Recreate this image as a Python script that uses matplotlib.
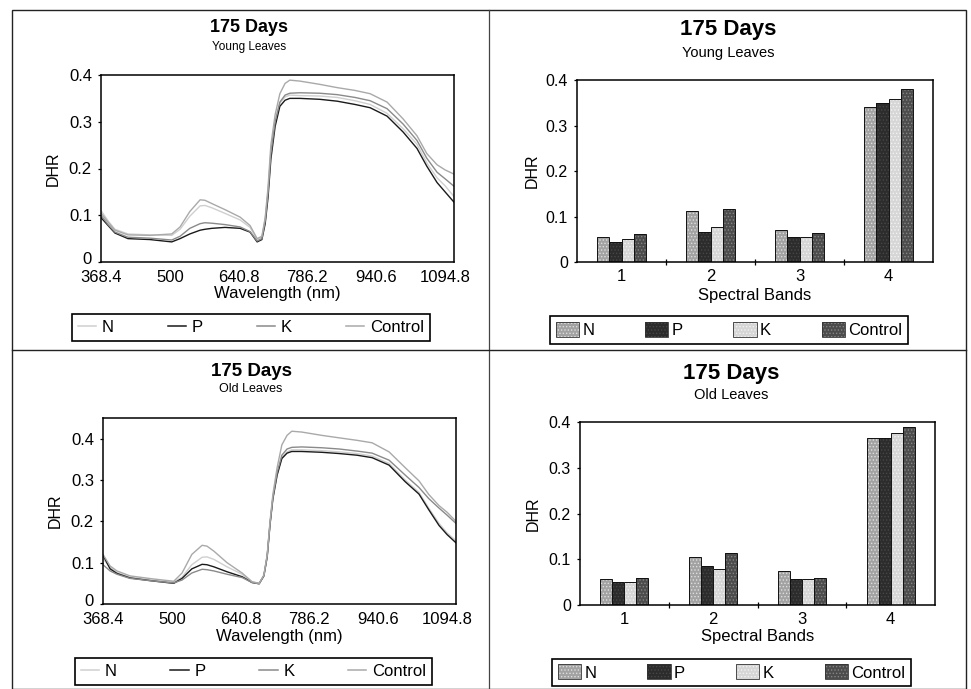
import numpy as np
import matplotlib
matplotlib.use("Agg")
import matplotlib.pyplot as plt
import matplotlib.transforms as mtransforms
from matplotlib.patches import Patch, Rectangle
from matplotlib.lines import Line2D

plt.rcParams['font.family'] = ['Liberation Sans', 'DejaVu Sans']
plt.rcParams['hatch.linewidth'] = 0.6

W, H = 971, 689

treatments = ['N', 'P', 'K', 'Control']
wl_ticks = [368.4, 500, 640.8, 786.2, 940.6, 1094.8]
wl_labels = ['368.4', '500', '640.8', '786.2', '940.6', '1094.8']
dhr_ticks = [0, 0.1, 0.2, 0.3, 0.4]
dhr_labels = ['0', '0.1', '0.2', '0.3', '0.4']
bands = [1, 2, 3, 4]

# wavelengths (nm) at which the curves were read
wavelength = [368.4, 382, 395, 420, 462, 504, 521, 541, 562, 572, 586, 613, 644, 665,
              680, 690, 697, 703, 709, 718, 728, 739, 749, 770, 814, 853, 893, 927,
              965, 1001, 1032, 1054, 1077, 1095, 1115]

young_N = [0.110, 0.088, 0.070, 0.060, 0.058, 0.057, 0.070, 0.098, 0.120, 0.121, 0.116, 0.104,
           0.090, 0.074, 0.048, 0.053, 0.090, 0.150, 0.235, 0.300, 0.340, 0.353, 0.357, 0.356,
           0.355, 0.352, 0.345, 0.337, 0.318, 0.285, 0.252, 0.212, 0.180, 0.163, 0.140]
young_P = [0.095, 0.078, 0.062, 0.050, 0.048, 0.043, 0.050, 0.060, 0.068, 0.070, 0.072, 0.074,
           0.072, 0.064, 0.043, 0.048, 0.082, 0.138, 0.220, 0.290, 0.333, 0.346, 0.350, 0.350,
           0.348, 0.344, 0.337, 0.330, 0.312, 0.278, 0.243, 0.205, 0.170, 0.150, 0.128]
young_K = [0.100, 0.080, 0.064, 0.053, 0.051, 0.047, 0.055, 0.072, 0.082, 0.084, 0.083, 0.080,
           0.075, 0.065, 0.045, 0.050, 0.088, 0.148, 0.232, 0.300, 0.342, 0.357, 0.361, 0.362,
           0.361, 0.358, 0.352, 0.345, 0.328, 0.295, 0.260, 0.222, 0.192, 0.178, 0.162]
young_C = [0.105, 0.085, 0.068, 0.058, 0.057, 0.060, 0.075, 0.108, 0.133, 0.132, 0.125, 0.112,
           0.096, 0.078, 0.050, 0.055, 0.095, 0.160, 0.250, 0.315, 0.360, 0.382, 0.389, 0.387,
           0.380, 0.373, 0.367, 0.360, 0.342, 0.306, 0.270, 0.232, 0.208, 0.197, 0.188]

old_N = [0.110, 0.088, 0.076, 0.065, 0.058, 0.053, 0.065, 0.095, 0.113, 0.114, 0.108, 0.090,
         0.072, 0.053, 0.050, 0.068, 0.113, 0.190, 0.252, 0.312, 0.354, 0.368, 0.373, 0.373,
         0.371, 0.368, 0.364, 0.358, 0.340, 0.300, 0.270, 0.232, 0.195, 0.172, 0.153]
old_P = [0.118, 0.085, 0.074, 0.063, 0.056, 0.050, 0.062, 0.085, 0.096, 0.095, 0.090, 0.078,
         0.066, 0.052, 0.049, 0.068, 0.115, 0.193, 0.255, 0.312, 0.352, 0.365, 0.369, 0.369,
         0.367, 0.364, 0.360, 0.354, 0.336, 0.296, 0.266, 0.228, 0.190, 0.168, 0.148]
old_K = [0.095, 0.080, 0.072, 0.062, 0.056, 0.051, 0.058, 0.075, 0.084, 0.083, 0.080, 0.072,
         0.064, 0.052, 0.049, 0.069, 0.115, 0.195, 0.258, 0.318, 0.360, 0.375, 0.379, 0.380,
         0.378, 0.375, 0.370, 0.365, 0.348, 0.312, 0.282, 0.255, 0.232, 0.215, 0.195]
old_C = [0.120, 0.092, 0.080, 0.068, 0.061, 0.055, 0.075, 0.120, 0.142, 0.140, 0.128, 0.100,
         0.075, 0.054, 0.050, 0.070, 0.120, 0.200, 0.265, 0.330, 0.385, 0.408, 0.418, 0.416,
         0.408, 0.402, 0.396, 0.390, 0.368, 0.330, 0.298, 0.265, 0.238, 0.222, 0.200]

# mean DHR per spectral band
young_band_N = [0.056, 0.112, 0.071, 0.341]
young_band_P = [0.044, 0.066, 0.054, 0.350]
young_band_K = [0.051, 0.078, 0.056, 0.359]
young_band_C = [0.061, 0.116, 0.064, 0.380]

old_band_N = [0.057, 0.105, 0.074, 0.365]
old_band_P = [0.051, 0.085, 0.056, 0.365]
old_band_K = [0.051, 0.078, 0.056, 0.375]
old_band_C = [0.058, 0.113, 0.058, 0.389]

line_colors = ['#cfcfcf', '#1a1a1a', '#8a8a8a', '#a9a9a9']
bar_face = ['#a2a2a2', '#2c2c2c', '#d6d6d6', '#4c4c4c']
bar_hatch = ['#dedede', '#474747', '#f2f2f2', '#858585']

# the category axis of the line charts: labels are evenly spaced
knot_wl = wl_ticks + [1249.0]
knot_pos = [0, 1, 2, 3, 4, 5, 6]


def fwd(x):
    return np.interp(x, knot_wl, knot_pos)


def inv(p):
    return np.interp(p, knot_pos, knot_wl)


def rect(l, t, r, b):
    return [l / W, 1 - b / H, (r - l) / W, (b - t) / H]


def ftext(x, y, s, size, bold=False):
    fig.text(x / W, 1 - y / H, s, ha='center', va='center', fontsize=size,
             fontweight='bold' if bold else 'normal')


def style_axes(ax, top, bottom, left, xlab_y, ylab_x, fs):
    for sp in ax.spines.values():
        sp.set_linewidth(1.1)
        sp.set_color('black')
    ax.set_yticks(dhr_ticks)
    ax.set_yticklabels(dhr_labels)
    ax.tick_params(axis='y', direction='out', length=2.5, width=0.9, pad=4, labelsize=fs)
    h = bottom - top
    w = ax.get_position().width * W
    ax.xaxis.label.set_va('center')
    ax.yaxis.label.set_va('center')
    ax.xaxis.set_label_coords(0.5, -(xlab_y - bottom) / h)
    ax.yaxis.set_label_coords(-(left - ylab_x) / w, 0.5)


def line_panel(box, curves, ymax, xlab_y, ylab_x, legend_box):
    l, t, r, b = box
    ax = fig.add_axes(rect(*box))
    ax.set_xscale('function', functions=(fwd, inv))
    for vals, c in zip(curves, line_colors):
        ax.plot(wavelength, vals, color=c, lw=1.0)
    ax.set_xlim(368.4, 1115)
    ax.set_ylim(0, ymax)
    ax.set_xticks(wl_ticks)
    ax.set_xticklabels(wl_labels)
    ax.tick_params(axis='x', length=0, pad=5.5, labelsize=12)
    ax.set_xlabel('Wavelength (nm)', fontsize=12)
    ax.set_ylabel('DHR', fontsize=11.5)
    style_axes(ax, t, b, l, xlab_y, ylab_x, 12)
    # the "0" label sits a little higher, clear of the first wavelength label
    zero = ax.get_yticklabels()[0]
    zero.set_transform(zero.get_transform() +
                       mtransforms.ScaledTranslation(0, 4 / 100, fig.dpi_scale_trans))
    handles = [Line2D([], [], color=c, lw=1.1) for c in line_colors]
    leg_l, leg_t, leg_r, leg_b = legend_box
    fig.legend(handles, treatments, loc='center', ncol=4, mode='expand',
               bbox_to_anchor=rect(leg_l, leg_t, leg_r, leg_b), borderaxespad=0,
               fancybox=False, edgecolor='black', fontsize=12, handlelength=1.1,
               handletextpad=0.35, borderpad=0.35, framealpha=1).get_frame().set_linewidth(1.2)
    return ax


def bar_panel(box, series, xlab_y, ylab_x, legend_box):
    l, t, r, b = box
    ax = fig.add_axes(rect(*box))
    x = np.array(bands, dtype=float)
    width = 0.135
    offsets = [-1.5, -0.5, 0.5, 1.5]
    handles = []
    for vals, off, fc, hc in zip(series, offsets, bar_face, bar_hatch):
        xs = x + off * width
        ax.bar(xs, vals, width, color=fc, linewidth=0)
        ax.bar(xs, vals, width, facecolor='none', edgecolor=hc, hatch='.....', linewidth=0)
        ax.bar(xs, vals, width, fill=False, edgecolor='#111111', linewidth=0.7)
        handles.append((Patch(facecolor=fc, linewidth=0),
                        Patch(facecolor='none', edgecolor=hc, hatch='.....', linewidth=0),
                        Patch(fill=False, edgecolor='#333333', linewidth=0.6)))
    ax.set_xlim(0.5, 4.5)
    ax.set_ylim(0, 0.4)
    ax.set_xticks(bands)
    ax.set_xticklabels([str(v) for v in bands])
    ax.set_xticks([1.5, 2.5, 3.5], minor=True)
    ax.tick_params(axis='x', which='major', length=0, pad=5, labelsize=12)
    ax.tick_params(axis='x', which='minor', direction='inout', length=5, width=0.9)
    ax.set_xlabel('Spectral Bands', fontsize=12)
    ax.set_ylabel('DHR', fontsize=11.5)
    style_axes(ax, t, b, l, xlab_y, ylab_x, 11.5)
    leg_l, leg_t, leg_r, leg_b = legend_box
    fig.legend(handles, treatments, loc='center', ncol=4, mode='expand',
               bbox_to_anchor=rect(leg_l, leg_t, leg_r, leg_b), borderaxespad=0,
               fancybox=False, edgecolor='black', fontsize=12, handlelength=1.4,
               handleheight=1.0, handletextpad=0.2, borderpad=0.35,
               framealpha=1).get_frame().set_linewidth(1.2)
    return ax


fig = plt.figure(figsize=(W / 100, H / 100), dpi=100)
fig.patch.set_facecolor('white')

# panel frames
fig.add_artist(Rectangle((12 / W, 0), (966 - 12) / W, 1 - 10 / H, transform=fig.transFigure,
                         fill=False, edgecolor='#222222', linewidth=1.0))
fig.add_artist(Line2D([489 / W, 489 / W], [0, 1 - 10 / H], transform=fig.transFigure,
                      color='#444444', linewidth=0.9))
fig.add_artist(Line2D([12 / W, 966 / W], [1 - 350 / H, 1 - 350 / H], transform=fig.transFigure,
                      color='#222222', linewidth=1.0))

# titles
ftext(249, 28, '175 Days', 13, bold=True)
ftext(249, 47, 'Young Leaves', 8.5)
ftext(728, 30, '175 Days', 16, bold=True)
ftext(728, 53, 'Young Leaves', 10.5)
ftext(251, 371, '175 Days', 13.5, bold=True)
ftext(251, 389, 'Old Leaves', 9)
ftext(731, 373, '175 Days', 16, bold=True)
ftext(731, 395, 'Old Leaves', 10.5)

line_panel((101, 75, 454, 262), [young_N, young_P, young_K, young_C], 0.4,
           293, 53, (72, 311, 430, 344))
line_panel((103, 418, 456, 604), [old_N, old_P, old_K, old_C], 0.45,
           636, 55, (75, 656, 432, 687))
bar_panel((577, 80, 933, 262), [young_band_N, young_band_P, young_band_K, young_band_C],
          295, 532, (550, 313, 908, 347))
bar_panel((580, 422, 935, 605), [old_band_N, old_band_P, old_band_K, old_band_C],
          637, 533, (552, 657, 911, 688))

fig.savefig('out.png', dpi=100)
